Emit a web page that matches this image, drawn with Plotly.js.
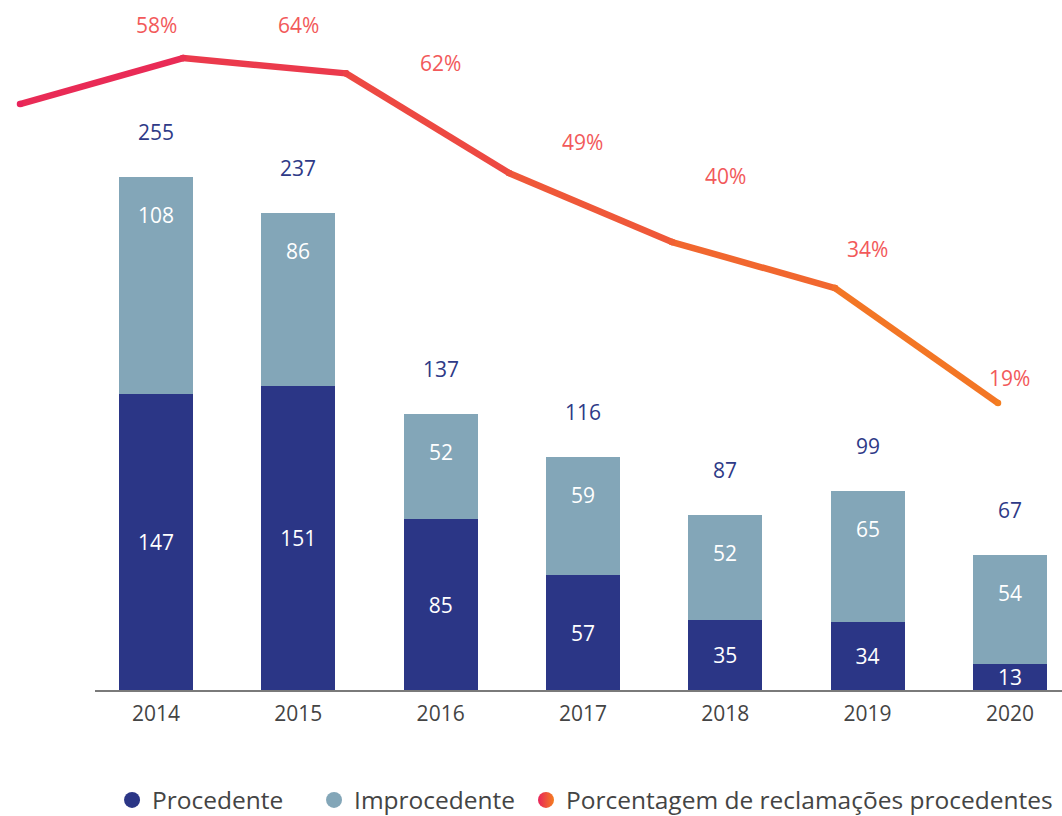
<!DOCTYPE html>
<html>
<head>
<meta charset="utf-8">
<script src="https://cdn.plot.ly/plotly-3.0.1.min.js"></script>
<style>html,body{margin:0;padding:0;background:#fff;}#chart{width:1062px;height:816px;}</style>
</head>
<body>
<div id="chart"></div>
<script>
// ---- data ----
const years = ['2014', '2015', '2016', '2017', '2018', '2019', '2020'];
const procedente = [147, 151, 85, 57, 35, 34, 13];
const improcedente = [108, 86, 52, 59, 52, 65, 54];
const totals = [255, 237, 137, 116, 87, 99, 67];
const pctProcedentes = [58, 64, 62, 49, 40, 34, 19];
const seriesNames = ['Procedente', 'Improcedente', 'Porcentagem de reclamações procedentes'];

// ---- styles ----
const FONT = '"Open Sans", "Noto Sans", sans-serif';
const C_PROC = '#2B3686';
const C_IMPR = '#83A6B8';
const C_NAVY = '#2E3A87';
const LINE_START = [232, 35, 91];
const LINE_END = [244, 126, 32];
const PCT_COLOR = '#F2595A';

function mix(t) {
  const c = LINE_START.map((s, k) => Math.round(s + (LINE_END[k] - s) * t));
  return 'rgb(' + c.join(',') + ')';
}

const traces = [];
traces.push({
  type: 'bar', name: seriesNames[0], x: years, y: procedente,
  marker: {color: C_PROC, line: {width: 0}},
  text: procedente.map(String), textposition: 'inside', insidetextanchor: 'middle',
  textangle: 0, textfont: {family: FONT, size: 21, color: '#ffffff'}, constraintext: 'none',
  showlegend: false, hoverinfo: 'x+y'
});
traces.push({
  type: 'bar', name: seriesNames[1], x: years, y: improcedente,
  marker: {color: C_IMPR, line: {width: 0}},
  textposition: 'none',
  showlegend: false, hoverinfo: 'x+y'
});

// gradient line drawn as consecutive segments
const n = pctProcedentes.length;
for (let i = 0; i < n - 1; i++) {
  const col = mix((i + 0.5) / (n - 1));
  traces.push({
    type: 'scatter', mode: 'lines+markers', xaxis: 'x2', yaxis: 'y2',
    x: [i, i + 1], y: [pctProcedentes[i], pctProcedentes[i + 1]],
    line: {color: col, width: 6.5},
    marker: {color: [mix(i / (n - 1)), mix((i + 1) / (n - 1))], size: 6.5},
    showlegend: false, hoverinfo: 'skip', cliponaxis: false
  });
}

// legend entries (circles), one legend each so spacing can match
traces.push({type: 'scatter', mode: 'markers', x: [null], y: [null], name: seriesNames[0],
  legend: 'legend', marker: {color: C_PROC, size: 26, symbol: 'circle'}});
traces.push({type: 'scatter', mode: 'markers', x: [null], y: [null], name: seriesNames[1],
  legend: 'legend2', marker: {color: C_IMPR, size: 26, symbol: 'circle'}});
traces.push({type: 'scatter', mode: 'markers', x: [null], y: [null], name: seriesNames[2],
  legend: 'legend3', marker: {color: mix(0), size: 26, symbol: 'circle',
    gradient: {type: 'horizontal', color: mix(1)}}});

const annotations = [];
// totals above bars
totals.forEach((t, i) => {
  annotations.push({xref: 'x', yref: 'y', x: i, y: t, text: String(t),
    showarrow: false, yshift: 45, font: {family: FONT, size: 21, color: C_NAVY}});
});
// improcedente values near top of their segment
improcedente.forEach((v, i) => {
  annotations.push({xref: 'x', yref: 'y', x: i, y: procedente[i] + v, text: String(v),
    showarrow: false, yshift: -38, font: {family: FONT, size: 21, color: '#ffffff'}});
});
// percentages
const pctLabelLift = [79, 33, 10, 31, 66, 39, 25];
pctProcedentes.forEach((p, i) => {
  annotations.push({xref: 'x', yref: 'y2', x: i, y: p, text: p + '%',
    showarrow: false, yshift: pctLabelLift[i], font: {family: FONT, size: 21, color: PCT_COLOR}});
});

function legendAt(xFrac) {
  return {
    orientation: 'h', xref: 'container', yref: 'container',
    x: xFrac, xanchor: 'left', y: 0.0196, yanchor: 'middle',
    font: {family: FONT, size: 24.5, color: '#444444'},
    itemsizing: 'trace', bgcolor: 'rgba(0,0,0,0)', borderwidth: 0
  };
}

const layout = {
  width: 1062, height: 816,
  margin: {l: 0, r: 0, t: 0, b: 126, autoexpand: false},
  paper_bgcolor: '#ffffff', plot_bgcolor: 'rgba(0,0,0,0)',
  font: {family: FONT, color: '#444444'},
  barmode: 'stack', bargap: 0.48,
  xaxis: {
    domain: [95 / 1062, 1], type: 'category', range: [-0.4286, 6.366],
    showgrid: false, zeroline: false, showline: true, linecolor: '#7a7a7a', linewidth: 2,
    ticks: '', tickfont: {family: FONT, size: 21, color: '#444444'}, ticklabelstandoff: 4,
    fixedrange: true
  },
  yaxis: {
    domain: [0, 1], range: [0, 343], visible: false, fixedrange: true
  },
  xaxis2: {
    domain: [0, 1], anchor: 'y2', range: [-0.1227, 6.3926], visible: false, fixedrange: true
  },
  yaxis2: {
    domain: [0, 1], anchor: 'x2', range: [-18.43, 71.57], visible: false, fixedrange: true
  },
  legend: legendAt(0.1055),
  legend2: legendAt(0.2957),
  legend3: legendAt(0.4953),
  annotations: annotations,
  showlegend: true
};

Plotly.newPlot('chart', traces, layout, {displayModeBar: false, staticPlot: true});
</script>
</body>
</html>
